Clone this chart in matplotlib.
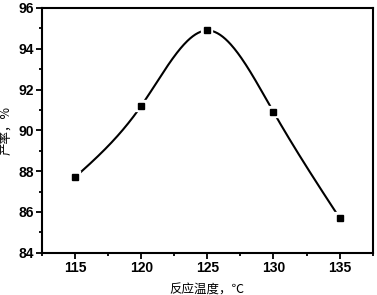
import numpy as np
import matplotlib.pyplot as plt
from matplotlib.ticker import MultipleLocator

# reaction temperature vs yield
temps = [115, 120, 125, 130, 135]
yields = [87.7, 91.2, 94.9, 90.9, 85.7]
xticks = [115, 120, 125, 130, 135]
yticks = [84, 86, 88, 90, 92, 94, 96]


def spline(x, y, n=300):
	''' natural cubic spline through the points '''
	x = np.asarray(x, float)
	y = np.asarray(y, float)
	m = len(x)
	h = np.diff(x)
	A = np.zeros((m, m))
	r = np.zeros(m)
	A[0, 0] = A[-1, -1] = 1
	for i in range(1, m - 1):
		A[i, i - 1] = h[i - 1]
		A[i, i] = 2 * (h[i - 1] + h[i])
		A[i, i + 1] = h[i]
		r[i] = 3 * ((y[i + 1] - y[i]) / h[i] - (y[i] - y[i - 1]) / h[i - 1])
	c = np.linalg.solve(A, r)
	xs = np.linspace(x[0], x[-1], n)
	idx = np.clip(np.searchsorted(x, xs) - 1, 0, m - 2)
	dx = xs - x[idx]
	b = (y[1:] - y[:-1]) / h - h * (2 * c[:-1] + c[1:]) / 3
	d = (c[1:] - c[:-1]) / (3 * h)
	ys = y[idx] + b[idx] * dx + c[idx] * dx ** 2 + d[idx] * dx ** 3
	return xs, ys


fig = plt.figure(figsize=(3.77, 2.95), dpi=100)
ax = fig.add_axes([0.1114, 0.1434, 0.8772, 0.8295])

xs, ys = spline(temps, yields)
ax.plot(xs, ys, color='black', lw=1.5)
# white halo so the curve breaks around each marker
ax.plot(temps, yields, ls='none', marker='s', ms=5, color='white',
	markeredgecolor='white', mew=4.5)
ax.plot(temps, yields, ls='none', marker='s', ms=4.5, color='black')

ax.set_xlim(112.5, 137.5)
ax.set_ylim(84, 96)
ax.set_xticks(xticks)
ax.set_yticks(yticks)
ax.xaxis.set_minor_locator(MultipleLocator(2.5))
ax.yaxis.set_minor_locator(MultipleLocator(1))
ax.tick_params(which='both', direction='out', width=1.3)
ax.tick_params(which='major', length=4, pad=2)
ax.tick_params(which='minor', length=2.5)
for s in ax.spines.values():
	s.set_linewidth(1.5)
for lab in ax.get_xticklabels() + ax.get_yticklabels():
	lab.set_fontfamily('Liberation Sans')
	lab.set_fontweight('bold')
	lab.set_fontsize(10)

cjk = ['Noto Sans CJK SC', 'DejaVu Sans']
ax.set_xlabel('反应温度，℃', family=cjk, fontsize=9, labelpad=6)
ax.set_ylabel('产率，%', family=cjk, fontsize=9, labelpad=4)

fig.savefig('out.png', dpi=100)
